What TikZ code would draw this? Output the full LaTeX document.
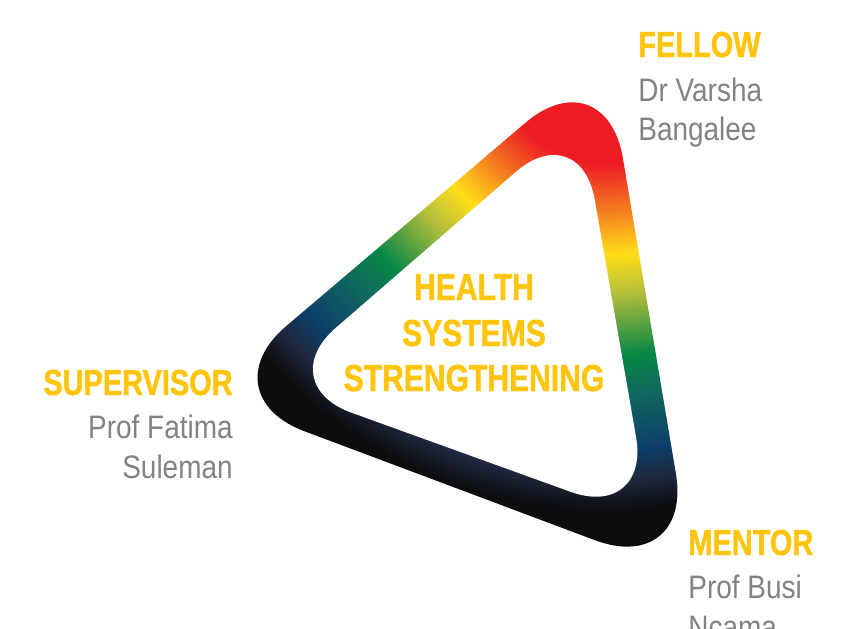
\documentclass[tikz,border=0pt]{standalone}
\usepackage{fontspec}
\usetikzlibrary{calc}
\newfontfamily\rolefont{Liberation Sans Bold}[FakeStretch=0.8,FakeBold=1.2]
\newfontfamily\namefont{Liberation Sans}[FakeStretch=0.86]
\definecolor{ringred}{RGB}{237,28,36}
\definecolor{ringorange}{RGB}{243,112,33}
\definecolor{ringyellow}{RGB}{255,222,23}
\definecolor{ringlime}{RGB}{178,190,60}
\definecolor{ringgreen}{RGB}{8,135,68}
\definecolor{ringteal}{RGB}{16,104,96}
\definecolor{ringblue}{RGB}{12,62,105}
\definecolor{ringnavy}{RGB}{30,40,62}
\definecolor{ringblack}{RGB}{13,13,16}
\definecolor{roleyellow}{RGB}{255,196,12}
\definecolor{namegray}{RGB}{128,130,133}
\pgfdeclareradialshading{ringshade}{\pgfpointorigin}{color(0bp)=(ringred); color(5.5bp)=(ringred);
  color(7.5bp)=(ringorange); color(10bp)=(ringyellow); color(12bp)=(ringlime); color(15bp)=(ringgreen);
  color(17bp)=(ringteal); color(19.75bp)=(ringblue); color(21.25bp)=(ringnavy); color(22.75bp)=(ringblack);
  color(50bp)=(ringblack)}
\begin{document}
\begin{tikzpicture}[x=0.02cm,y=-0.02cm,
	role/.style={font=\rolefont\fontsize{20.6}{24}\selectfont,text=roleyellow,inner sep=0pt},
	who/.style={font=\namefont\fontsize{18.5}{22}\selectfont,text=namegray,inner sep=0pt},
	theme/.style={font=\rolefont\fontsize{21.4}{25}\selectfont,text=roleyellow,inner sep=0pt,anchor=base}]
		\useasboundingbox (0,0) rectangle (859,629);
		%
		\coordinate (ta) at (605.5,54.7);
		\coordinate (la) at (206,394.3);
		\coordinate (ra) at (693.3,577.1);
		\coordinate (tb) at (580.2,116.2);
		\coordinate (lb) at (271.3,383.7);
		\coordinate (rb) at (650.6,520.7);
		%
		\begin{scope}
		\clip[rounded corners=2.1cm] ($(la)!.5!(ta)$) -- (ta) -- (ra) -- (la) -- cycle;
		\shade[shading=ringshade] (ta) circle (10cm);
		\end{scope}
		\fill[white,rounded corners=1.7cm] ($(lb)!.5!(tb)$) -- (tb) -- (rb) -- (lb) -- cycle;
		%
		\node[theme] (hh) at (474,300) {HEALTH};
		\node[theme] (ss) at (474,346) {SYSTEMS};
		\node[theme] (st) at (474,391) {STRENGTHENING};
		%
		\node[role,anchor=base west] (fellow) at (638,57) {FELLOW};
		\node[who,anchor=base west] (fellowa) at (638,101) {Dr Varsha};
		\node[who,anchor=base west] (fellowb) at (638,140) {Bangalee};
		%
		\node[role,anchor=base east] (super) at (233,395) {SUPERVISOR};
		\node[who,anchor=base east] (supera) at (233,438) {Prof Fatima};
		\node[who,anchor=base east] (superb) at (233,478) {Suleman};
		%
		\node[role,anchor=base west] (mentor) at (688,555) {MENTOR};
		\node[who,anchor=base west] (mentora) at (688,598) {Prof Busi};
		\node[who,anchor=base west] (mentorb) at (688,638) {Ncama};
		%
\end{tikzpicture}
\end{document}
